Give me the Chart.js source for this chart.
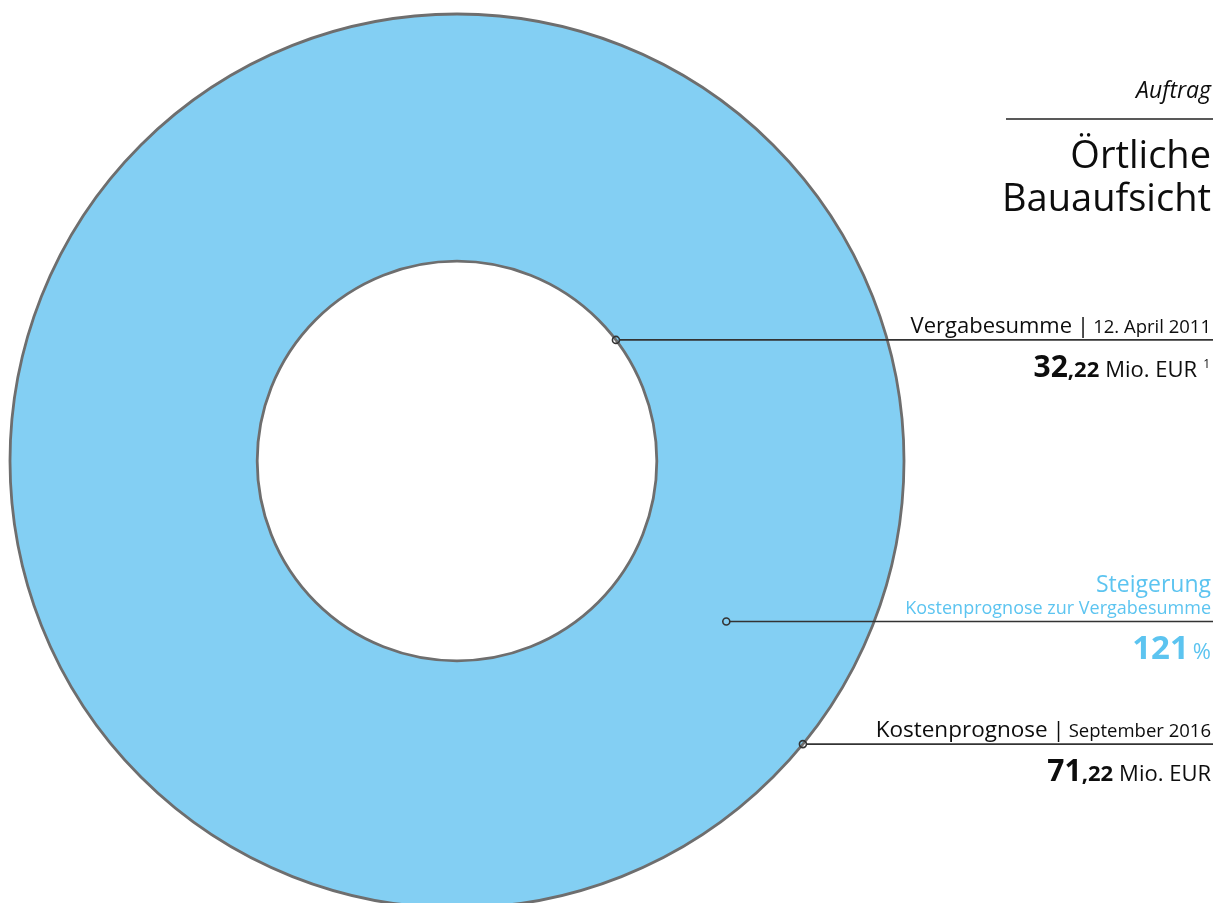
<!DOCTYPE html>
<html>
<head>
<meta charset="utf-8">
<script src="https://cdn.jsdelivr.net/npm/chart.js@4/dist/chart.umd.min.js"></script>
<style>
  html, body { margin: 0; padding: 0; background: #fff; }
  #holder { position: relative; width: 1214px; height: 903px; overflow: hidden; }
</style>
</head>
<body>
<div id="holder"><canvas id="chart" width="1214" height="920"></canvas></div>
<script>
// data
var categories = ['Kostenprognose'];
var values = [71.22];
var vergabeValue = ['32', ',22'];
var prognoseValue = ['71', ',22'];
var steigerungValue = ['121'];

var ringColor = '#83cff3';
var edgeColor = '#6e6e6e';
var accent = '#5cc4f0';
var font = '"Open Sans", "Noto Sans", sans-serif';

// draw runs of text right aligned, last run ends at x; gap = space left of a run
function drawRuns(ctx, runs, x, y) {
    var cur = x;
    for (var i = runs.length - 1; i >= 0; i--) {
        var r = runs[i];
        ctx.font = r.font;
        ctx.fillStyle = r.color || '#0d0d0d';
        var w = ctx.measureText(r.text).width;
        ctx.fillText(r.text, cur - w, y + (r.dy || 0));
        cur -= w + (r.gap || 0);
    }
}

// leader lines: angle in degrees, position across the ring (0 = inner edge, 1 = outer edge)
var callouts = [
    { angle: -37.3, across: 0, kind: 'vergabe' },
    { angle: 30.8, across: 0.46, kind: 'steigerung' },
    { angle: 39.3, across: 1, kind: 'prognose' }
];

var labelPlugin = {
    id: 'labels',
    afterDatasetsDraw: function(chart) {
        var ctx = chart.ctx;
        var arc = chart.getDatasetMeta(0).data[0];
        var cx = arc.x, cy = arc.y;
        var ri = arc.innerRadius, ro = arc.outerRadius;
        var right = 1211;

        ctx.save();
        // ring outlines
        ctx.strokeStyle = edgeColor;
        ctx.lineWidth = 2.8;
        ctx.beginPath(); ctx.arc(cx, cy, ro, 0, Math.PI * 2); ctx.stroke();
        ctx.beginPath(); ctx.arc(cx, cy, ri, 0, Math.PI * 2); ctx.stroke();

        // title block
        ctx.textBaseline = 'alphabetic';
        drawRuns(ctx, [{ text: 'Auftrag', font: 'italic 23px ' + font }], right, 98);
        ctx.strokeStyle = '#222';
        ctx.lineWidth = 1.5;
        ctx.beginPath(); ctx.moveTo(1006, 119); ctx.lineTo(1213, 119); ctx.stroke();
        drawRuns(ctx, [{ text: 'Örtliche', font: '38px ' + font }], right, 168);
        drawRuns(ctx, [{ text: 'Bauaufsicht', font: '38px ' + font }], right, 211);

        callouts.forEach(function(c) {
            var a = c.angle * Math.PI / 180;
            var r = ri + (ro - ri) * c.across;
            var px = cx + r * Math.cos(a);
            var py = cy + r * Math.sin(a);

            ctx.strokeStyle = '#333';
            ctx.lineWidth = 1.6;
            ctx.beginPath(); ctx.moveTo(px + 3.5, py); ctx.lineTo(1213, py); ctx.stroke();
            ctx.beginPath(); ctx.arc(px, py, 3.5, 0, Math.PI * 2); ctx.stroke();

            if (c.kind === 'vergabe') {
                drawRuns(ctx, [
                    { text: 'Vergabesumme', font: '22px ' + font },
                    { text: '|', font: '22px ' + font, gap: 5 },
                    { text: '12. April 2011', font: '18.5px ' + font, gap: 4 }
                ], right, py - 7);
                drawRuns(ctx, [
                    { text: vergabeValue[0], font: 'bold 30px ' + font },
                    { text: vergabeValue[1], font: 'bold 22px ' + font },
                    { text: 'Mio. EUR', font: '22px ' + font, gap: 6 },
                    { text: '1', font: '12px ' + font, dy: -9, gap: 6 }
                ], right - 1, py + 37);
            } else if (c.kind === 'steigerung') {
                drawRuns(ctx, [{ text: 'Steigerung', font: '23px ' + font, color: accent }], right, py - 30);
                drawRuns(ctx, [{ text: 'Kostenprognose zur Vergabesumme', font: '18px ' + font, color: accent }], right, py - 8);
                drawRuns(ctx, [
                    { text: steigerungValue[0], font: 'bold 33px ' + font, color: accent },
                    { text: '%', font: '22px ' + font, color: accent, gap: 4 }
                ], right, py + 37);
            } else {
                drawRuns(ctx, [
                    { text: categories[0], font: '22.5px ' + font },
                    { text: '|', font: '22px ' + font, gap: 5 },
                    { text: 'September 2016', font: '18.5px ' + font, gap: 4 }
                ], right, py - 7);
                drawRuns(ctx, [
                    { text: prognoseValue[0], font: 'bold 30px ' + font },
                    { text: prognoseValue[1], font: 'bold 22px ' + font },
                    { text: 'Mio. EUR', font: '22px ' + font, gap: 6 }
                ], right, py + 37);
            }
        });
        ctx.restore();
    }
};

var ctx = document.getElementById('chart').getContext('2d');
new Chart(ctx, {
    type: 'doughnut',
    data: {
        labels: categories,
        datasets: [{
            data: values,
            backgroundColor: ringColor,
            borderWidth: 0,
            hoverOffset: 0
        }]
    },
    options: {
        responsive: false,
        animation: false,
        cutout: '44.7%',
        layout: { padding: { left: 10, top: 14, right: 310, bottom: 12 } },
        plugins: {
            legend: { display: false },
            tooltip: { enabled: false }
        },
        events: []
    },
    plugins: [labelPlugin]
});
</script>
</body>
</html>
